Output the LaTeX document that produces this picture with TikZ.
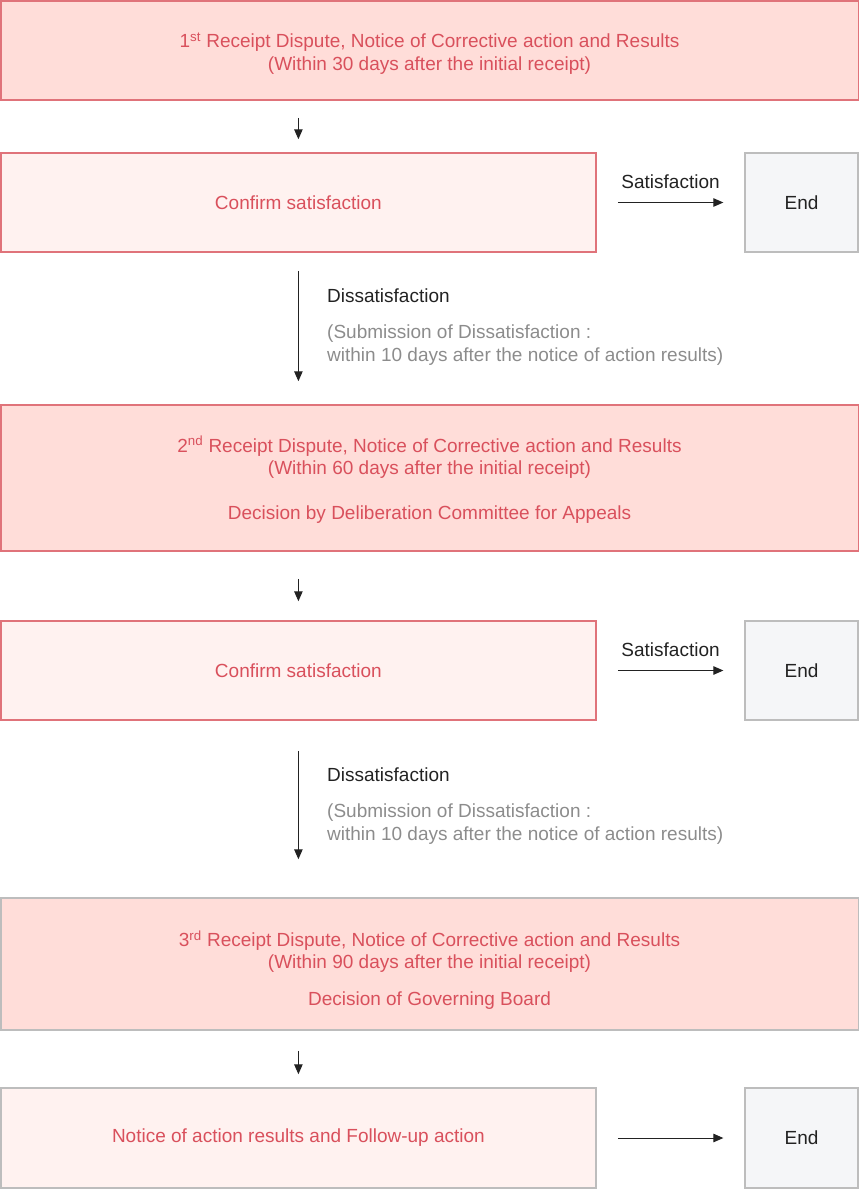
\documentclass[tikz,border=0pt]{standalone}
\usepackage{fontspec}
\setmainfont{Liberation Sans}
\usetikzlibrary{arrows.meta}
\definecolor{redtxt}{HTML}{D9505C}
\definecolor{redline}{HTML}{E0737A}
\definecolor{fillA}{HTML}{FFDDD9}
\definecolor{fillB}{HTML}{FFF2F0}
\definecolor{grayline}{HTML}{BDBDBD}
\definecolor{endfill}{HTML}{F5F6F8}
\definecolor{graytxt}{HTML}{8C8C8C}
\definecolor{darktxt}{HTML}{222222}
\tikzset{
  every node/.style={font=\fontsize{19}{22.5}\selectfont, inner sep=0pt},
  boxA/.style={draw=redline, fill=fillA, line width=1.5pt, text=redtxt, align=center},
  boxB/.style={draw=redline, fill=fillB, line width=1.5pt, text=redtxt, align=center},
  boxAg/.style={draw=grayline, fill=fillA, line width=1.5pt, text=redtxt, align=center},
  boxBg/.style={draw=grayline, fill=fillB, line width=1.5pt, text=redtxt, align=center},
  boxtxt/.style={text=redtxt, align=center},
  endbox/.style={draw=grayline, fill=endfill, line width=1.5pt, text=darktxt, minimum width=113pt, minimum height=99pt},
  arr/.style={draw=darktxt, line width=1pt, -{Triangle[length=10pt,width=8.5pt]}},
  lbl/.style={text=darktxt},
  note/.style={text=graytxt, align=left},
}
\begin{document}
\begin{tikzpicture}[x=1pt,y=-1pt]
\useasboundingbox (0,0) rectangle (859,1189);
% boxes
\node[boxA, minimum width=857.5pt, minimum height=99pt] (b1) at (429.5,50.5) {};
\node[boxtxt] (t1) at ([yshift=-3pt]b1.center)
  {1\textsuperscript{st} Receipt Dispute, Notice of Corrective action and Results\\(Within 30 days after the initial receipt)};
\node[boxB, minimum width=595.3pt, minimum height=99pt] (b2) at (298.4,202.5) {Confirm satisfaction};
\node[endbox] (e1) at (801.6,202.5) {End};
\node[boxA, minimum width=857.5pt, minimum height=146pt] (b3) at (429.5,478) {};
\node[boxtxt] (t3) at ([yshift=-2pt]b3.center)
  {2\textsuperscript{nd} Receipt Dispute, Notice of Corrective action and Results\\(Within 60 days after the initial receipt)\\[22.5pt]Decision by Deliberation Committee for Appeals};
\node[boxB, minimum width=595.3pt, minimum height=99pt] (b4) at (298.4,670.5) {Confirm satisfaction};
\node[endbox] (e2) at (801.6,670.5) {End};
\node[boxAg, minimum width=857.5pt, minimum height=132pt] (b5) at (429.5,964) {};
\node[boxtxt] (t5) at ([yshift=-6pt]b5.center)
  {3\textsuperscript{rd} Receipt Dispute, Notice of Corrective action and Results\\(Within 90 days after the initial receipt)\\[14pt]Decision of Governing Board};
\node[boxBg, minimum width=595.3pt, minimum height=100pt] (b6) at (298.4,1138) {Notice of action results and Follow-up action};
\node[endbox, minimum height=100pt] (e3) at (801.6,1138) {End};
% vertical arrows
\draw[arr, shorten <=17pt, shorten >=13pt] (b1.south -| b2) -- (b2.north);
\draw[arr, shorten <=18pt, shorten >=23pt] (b2.south) -- (b3.north -| b2);
\draw[arr, shorten <=27pt, shorten >=19pt] (b3.south -| b4) -- (b4.north);
\draw[arr, shorten <=30pt, shorten >=38pt] (b4.south) -- (b5.north -| b4);
\draw[arr, shorten <=20pt, shorten >=13pt] (b5.south -| b6) -- (b6.north);
% horizontal arrows
\draw[arr, shorten <=21pt, shorten >=21pt] (b2.east) -- node[lbl, above=13pt] (s1) {Satisfaction} (e1.west);
\draw[arr, shorten <=21pt, shorten >=21pt] (b4.east) -- node[lbl, above=13pt] (s2) {Satisfaction} (e2.west);
\draw[arr, shorten <=21pt, shorten >=21pt] (b6.east) -- (e3.west);
% dissatisfaction labels
\node[lbl, anchor=west] (d1) at (327,296) {Dissatisfaction};
\node[note, anchor=north west] (n1) at (327,325) {(Submission of Dissatisfaction :\\within 10 days after the notice of action results)};
\node[lbl, anchor=west] (d2) at (327,775) {Dissatisfaction};
\node[note, anchor=north west] (n2) at (327,804) {(Submission of Dissatisfaction :\\within 10 days after the notice of action results)};
\end{tikzpicture}
\end{document}
